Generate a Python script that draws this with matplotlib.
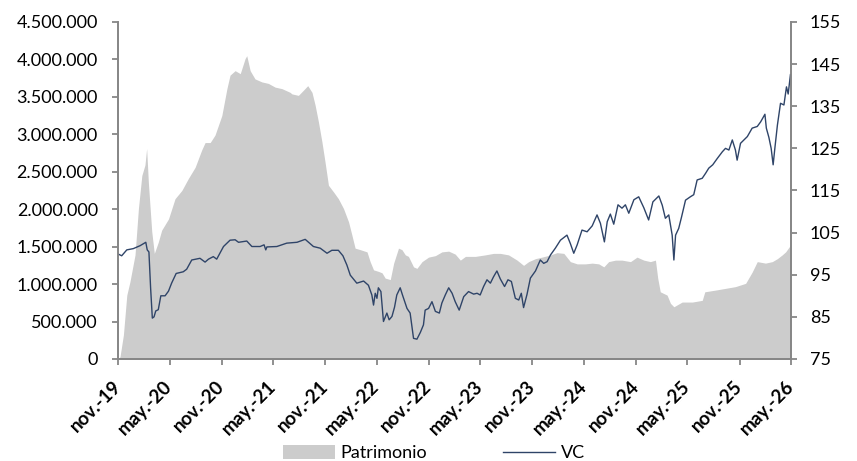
import pandas as pd
import matplotlib.pyplot as plt
import matplotlib.dates as mdates
from matplotlib.ticker import FuncFormatter, MultipleLocator, FixedLocator
from matplotlib.patches import Patch
from matplotlib.lines import Line2D

plt.rcParams['font.family'] = ['Lato', 'DejaVu Sans']

# Patrimonio (left axis)
pat_fechas = [
    "2019-11-01", "2019-11-08", "2019-11-20", "2019-12-02", "2019-12-13", "2019-12-31",
    "2020-01-12", "2020-01-24", "2020-02-04", "2020-02-10", "2020-02-16", "2020-02-28",
    "2020-03-08", "2020-03-22", "2020-04-03", "2020-04-27", "2020-05-20", "2020-06-13",
    "2020-07-06", "2020-07-30", "2020-08-22", "2020-09-03", "2020-09-21", "2020-10-08",
    "2020-11-01", "2020-11-19", "2020-11-30", "2020-12-18", "2021-01-05", "2021-01-22",
    "2021-01-28", "2021-02-09", "2021-02-26", "2021-03-22", "2021-04-14", "2021-05-08",
    "2021-06-01", "2021-06-30", "2021-07-06", "2021-07-29", "2021-08-16", "2021-08-31",
    "2021-09-15", "2021-09-26", "2021-10-08", "2021-10-20", "2021-10-31", "2021-11-12",
    "2021-11-30", "2021-12-17", "2022-01-04", "2022-01-22", "2022-02-03", "2022-02-14",
    "2022-03-04", "2022-03-28", "2022-04-08", "2022-04-20", "2022-05-07", "2022-05-20",
    "2022-05-31", "2022-06-18", "2022-06-30", "2022-07-17", "2022-07-29", "2022-08-10",
    "2022-08-21", "2022-09-08", "2022-09-20", "2022-10-08", "2022-10-31", "2022-11-24",
    "2022-12-17", "2023-01-10", "2023-02-02", "2023-02-20", "2023-03-10", "2023-04-14",
    "2023-05-19", "2023-06-17", "2023-07-11", "2023-08-09", "2023-09-08", "2023-10-01",
    "2023-10-19", "2023-11-12", "2023-12-05", "2024-01-04", "2024-01-27", "2024-02-20",
    "2024-03-14", "2024-04-07", "2024-05-06", "2024-05-30", "2024-06-22", "2024-07-10",
    "2024-07-27", "2024-08-20", "2024-09-12", "2024-10-12", "2024-11-04", "2024-11-28",
    "2024-12-21", "2025-01-08", "2025-01-16", "2025-01-25", "2025-02-18", "2025-03-02",
    "2025-03-14", "2025-04-12", "2025-05-18", "2025-06-22", "2025-07-01", "2025-08-08",
    "2025-09-12", "2025-10-17", "2025-11-22", "2025-12-15", "2026-01-02", "2026-01-31",
    "2026-02-24", "2026-03-14", "2026-03-31", "2026-04-12", "2026-04-29",
]
patrimonio = [
    0, 30000, 320000, 853000, 1030000, 1390000,
    2010000, 2450000, 2590000, 2810000, 2360000, 1700000,
    1410000, 1560000, 1720000, 1870000, 2140000, 2250000,
    2410000, 2560000, 2790000, 2890000, 2890000, 2990000,
    3250000, 3610000, 3790000, 3850000, 3810000, 4010000,
    4050000, 3850000, 3740000, 3700000, 3680000, 3630000,
    3610000, 3560000, 3540000, 3520000, 3590000, 3650000,
    3560000, 3390000, 3160000, 2900000, 2630000, 2320000,
    2230000, 2140000, 2010000, 1830000, 1650000, 1480000,
    1460000, 1430000, 1300000, 1190000, 1170000, 1150000,
    1080000, 1060000, 1280000, 1480000, 1460000, 1390000,
    1370000, 1230000, 1210000, 1300000, 1360000, 1380000,
    1430000, 1440000, 1400000, 1320000, 1370000, 1370000,
    1390000, 1410000, 1410000, 1390000, 1320000, 1250000,
    1300000, 1340000, 1360000, 1390000, 1420000, 1410000,
    1300000, 1270000, 1270000, 1280000, 1270000, 1230000,
    1300000, 1320000, 1320000, 1300000, 1360000, 1320000,
    1300000, 1320000, 1080000, 897000, 853000, 743000,
    697000, 760000, 760000, 783000, 897000, 920000,
    943000, 966000, 1010000, 1160000, 1300000, 1280000,
    1300000, 1340000, 1390000, 1430000, 1520000,
]

# VC (right axis)
vc_fechas = [
    "2019-11-02", "2019-11-14", "2019-12-02", "2019-12-25", "2020-01-18", "2020-02-07",
    "2020-02-12", "2020-02-18", "2020-02-24", "2020-03-01", "2020-03-07", "2020-03-13",
    "2020-03-22", "2020-03-31", "2020-04-15", "2020-04-27", "2020-05-08", "2020-05-24",
    "2020-06-18", "2020-06-30", "2020-07-18", "2020-08-16", "2020-09-03", "2020-09-15",
    "2020-10-02", "2020-10-14", "2020-11-07", "2020-11-30", "2020-12-18", "2020-12-30",
    "2021-01-28", "2021-02-15", "2021-03-16", "2021-03-30", "2021-04-05", "2021-04-09",
    "2021-05-14", "2021-06-18", "2021-07-24", "2021-08-22", "2021-09-20", "2021-10-14",
    "2021-11-07", "2021-11-24", "2021-12-17", "2022-01-02", "2022-01-16", "2022-01-28",
    "2022-02-20", "2022-03-16", "2022-04-02", "2022-04-14", "2022-04-20", "2022-04-26",
    "2022-05-02", "2022-05-07", "2022-05-16", "2022-05-25", "2022-06-06", "2022-06-14",
    "2022-06-24", "2022-07-03", "2022-07-11", "2022-07-23", "2022-07-31", "2022-08-16",
    "2022-08-27", "2022-09-08", "2022-09-20", "2022-10-02", "2022-10-13", "2022-10-19",
    "2022-10-31", "2022-11-12", "2022-11-24", "2022-12-08", "2022-12-17", "2022-12-29",
    "2023-01-10", "2023-01-22", "2023-02-02", "2023-02-16", "2023-03-04", "2023-03-21",
    "2023-04-08", "2023-04-20", "2023-05-01", "2023-05-13", "2023-05-25", "2023-06-06",
    "2023-06-17", "2023-06-29", "2023-07-11", "2023-07-26", "2023-08-07", "2023-08-19",
    "2023-09-02", "2023-09-14", "2023-09-23", "2023-10-01", "2023-10-13", "2023-10-25",
    "2023-11-12", "2023-11-29", "2023-12-11", "2023-12-23", "2024-01-04", "2024-01-21",
    "2024-02-08", "2024-03-02", "2024-03-14", "2024-03-26", "2024-04-07", "2024-04-24",
    "2024-05-12", "2024-05-30", "2024-06-16", "2024-06-28", "2024-07-12", "2024-07-22",
    "2024-08-02", "2024-08-14", "2024-08-29", "2024-09-12", "2024-09-24", "2024-10-06",
    "2024-10-24", "2024-11-10", "2024-11-28", "2024-12-15", "2024-12-30", "2025-01-20",
    "2025-02-01", "2025-02-12", "2025-02-24", "2025-03-08", "2025-03-14", "2025-03-20",
    "2025-03-31", "2025-04-10", "2025-04-24", "2025-05-11", "2025-05-23", "2025-06-04",
    "2025-06-22", "2025-07-04", "2025-07-15", "2025-07-29", "2025-08-14", "2025-09-01",
    "2025-09-12", "2025-09-24", "2025-10-06", "2025-10-17", "2025-10-23", "2025-11-04",
    "2025-11-16", "2025-11-28", "2025-12-15", "2026-01-02", "2026-01-14", "2026-01-29",
    "2026-02-03", "2026-02-12", "2026-02-20", "2026-02-27", "2026-03-05", "2026-03-14",
    "2026-03-25", "2026-04-06", "2026-04-15", "2026-04-21", "2026-04-29",
]
vc = [
    99.9, 99.5, 100.9, 101.2, 101.9, 102.7,
    100.9, 100.4, 91.8, 84.7, 85.0, 86.4,
    86.7, 90.0, 90.0, 91.1, 93.0, 95.3,
    95.7, 96.3, 98.5, 98.9, 98.0, 98.7,
    99.3, 98.7, 101.7, 103.2, 103.3, 102.7,
    103.0, 101.7, 101.7, 102.1, 100.9, 101.6,
    101.7, 102.5, 102.7, 103.4, 101.7, 101.3,
    100.1, 100.8, 100.8, 99.5, 97.3, 94.9,
    93.0, 93.5, 92.5, 90.2, 87.8, 90.6,
    89.4, 91.9, 91.0, 83.9, 85.9, 84.3,
    85.1, 87.3, 90.2, 91.9, 90.2, 87.0,
    85.9, 79.9, 79.7, 81.3, 83.1, 86.6,
    87.0, 88.6, 86.3, 85.9, 88.3, 90.2,
    91.9, 90.6, 88.6, 86.6, 89.8, 91.0,
    90.4, 90.6, 90.2, 92.2, 93.8, 93.0,
    94.5, 95.9, 94.0, 92.2, 93.8, 93.4,
    89.4, 89.0, 90.6, 87.2, 90.3, 94.2,
    95.9, 98.5, 97.7, 98.1, 99.7, 101.3,
    103.2, 104.4, 102.4, 100.1, 102.1, 105.6,
    105.2, 106.6, 109.2, 107.2, 102.8, 107.6,
    109.4, 107.0, 111.6, 110.8, 111.6, 109.6,
    112.8, 113.5, 110.9, 108.0, 112.3, 113.7,
    111.5, 108.4, 109.2, 104.4, 98.5, 104.4,
    106.0, 108.7, 112.7, 113.5, 114.0, 117.5,
    117.9, 119.1, 120.3, 121.1, 122.6, 124.2,
    125.0, 124.6, 127.0, 124.6, 122.2, 126.2,
    127.0, 127.8, 129.8, 130.2, 131.3, 133.1,
    129.8, 127.6, 125.0, 121.1, 125.0, 130.5,
    135.7, 135.3, 139.6, 137.9, 142.5,
]

meses = {5: "may.", 11: "nov."}
gris = "#cccccc"
azul = "#2f4468"
eje = "#878787"

fig = plt.figure(figsize=(8.57, 4.61), dpi=100)
ax = fig.add_axes([0.1377, 0.2213, 0.7853, 0.731])
ax2 = ax.twinx()

ax.fill_between(pd.to_datetime(pat_fechas), patrimonio, color=gris, lw=0)
ax2.plot(pd.to_datetime(vc_fechas), vc, color=azul, lw=1)

ax.set_xlim(pd.Timestamp("2019-11-01"), pd.Timestamp("2026-05-01"))
ax.set_ylim(0, 4500000)
ax.yaxis.set_major_locator(MultipleLocator(500000))
ax.yaxis.set_major_formatter(FuncFormatter(lambda v, p: f"{int(v):,}".replace(",", ".")))
ax2.set_ylim(75, 155)
ax2.yaxis.set_major_locator(FixedLocator(range(75, 156, 10)))

ax.xaxis.set_major_locator(mdates.MonthLocator(bymonth=[5, 11]))
ax.xaxis.set_major_formatter(FuncFormatter(
    lambda v, p: meses[mdates.num2date(v).month] + "-" + mdates.num2date(v).strftime("%y")))

for a in (ax, ax2):
    a.spines["top"].set_visible(False)
    for s in ("left", "right", "bottom"):
        a.spines[s].set_color(eje)
        a.spines[s].set_linewidth(1.3)
    a.tick_params(colors=eje, width=1.3, length=4.5, labelcolor="black", labelsize=13)

ax.tick_params(axis="y", pad=10)
ax2.tick_params(axis="y", pad=9)
ax.tick_params(axis="x", labelsize=13.5, pad=13)
plt.setp(ax.get_xticklabels(), rotation=45, ha="right", va="center",
         rotation_mode="anchor", fontweight="bold")

handles = [Patch(facecolor=gris, edgecolor="none", label="Patrimonio"),
           Line2D([], [], color=azul, lw=1, label="VC")]
fig.legend(handles=handles, loc="lower center", bbox_to_anchor=(0.506, -0.036), ncol=2,
           frameon=False, fontsize=13, handlelength=2.9, handleheight=0.75,
           columnspacing=4.2, handletextpad=0.3)

fig.savefig("out.png", dpi=100)
